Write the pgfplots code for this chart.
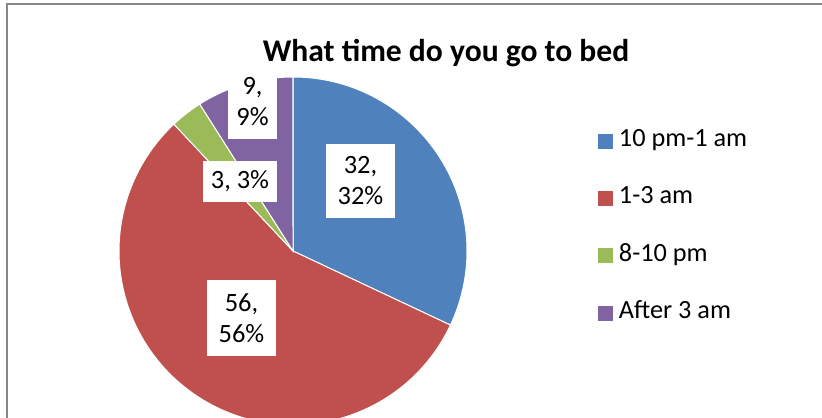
\documentclass[border=0pt]{standalone}
\usepackage{pgfplots}
\pgfplotsset{compat=1.18}
\usepackage{pgfplotstable}
\usepackage{fontspec}
\setmainfont{Carlito}
\definecolor{pieblue}{HTML}{4F81BD}
\definecolor{piered}{HTML}{C0504D}
\definecolor{piegreen}{HTML}{9BBB59}
\definecolor{piepurple}{HTML}{8064A2}
\definecolor{frame}{HTML}{878787}

\pgfplotstableread{
value
32
56
3
9
}\piedata

\begin{document}
\begin{tikzpicture}
\pgfplotstablegetelem{0}{value}\of\piedata \edef\vA{\pgfplotsretval}
\pgfplotstablegetelem{1}{value}\of\piedata \edef\vB{\pgfplotsretval}
\pgfplotstablegetelem{2}{value}\of\piedata \edef\vC{\pgfplotsretval}
\pgfplotstablegetelem{3}{value}\of\piedata \edef\vD{\pgfplotsretval}
\pgfmathsetmacro{\tot}{\vA+\vB+\vC+\vD}
\pgfmathsetmacro{\aA}{90-\vA/\tot*360}
\pgfmathsetmacro{\aB}{\aA-\vB/\tot*360}
\pgfmathsetmacro{\aC}{\aB-\vC/\tot*360}
\pgfmathsetmacro{\aD}{\aC-\vD/\tot*360}
\def\R{130.5pt}
\begin{axis}[
  scale only axis, width=616.5pt, height=313.5pt,
  xmin=0, xmax=822, ymin=0, ymax=418,
  axis lines=none, clip=true,
  legend style={draw=none, fill=none, at={(axis cs:594,289)}, anchor=north west,
    font=\fontsize{19.7}{22}\selectfont, row sep=29pt,
    nodes={inner sep=0pt, text height=11pt, text depth=3pt, anchor=west}},
  legend cell align=left,
  legend image code/.code={\fill[#1, draw=none] (0pt,-5.625pt) rectangle (11.25pt,5.625pt); \path[draw=none, fill=none] (0pt,0pt) rectangle (15.5pt,0.1pt);},
]
\addlegendimage{fill=pieblue, draw=none}
\addlegendentry{10 pm-1 am}
\addlegendimage{fill=piered, draw=none}
\addlegendentry{1-3 am}
\addlegendimage{fill=piegreen, draw=none}
\addlegendentry{8-10 pm}
\addlegendimage{fill=piepurple, draw=none}
\addlegendentry{After 3 am}

\filldraw[pieblue, draw=white, line width=0.75pt] (axis cs:293,167) -- ++(90:\R) arc[start angle=90, end angle=\aA, radius=\R] -- cycle;
\filldraw[piered, draw=white, line width=0.75pt] (axis cs:293,167) -- ++(\aA:\R) arc[start angle=\aA, end angle=\aB, radius=\R] -- cycle;
\filldraw[piegreen, draw=white, line width=0.75pt] (axis cs:293,167) -- ++(\aB:\R) arc[start angle=\aB, end angle=\aC, radius=\R] -- cycle;
\filldraw[piepurple, draw=white, line width=0.75pt] (axis cs:293,167) -- ++(\aC:\R) arc[start angle=\aC, end angle=\aD, radius=\R] -- cycle;

\draw[frame, line width=1.5pt] (axis cs:7,0) -- (axis cs:7,413.5) -- (axis cs:822,413.5);

\node[anchor=base, font=\bfseries\fontsize{23.7}{27}\selectfont] at (axis cs:446,356) {What time do you go to bed};

\tikzset{lbl/.style={fill=white, inner sep=0pt, align=center, font=\fontsize{19.8}{23.25}\selectfont}}
\node[lbl, minimum width=51.75pt, minimum height=55.5pt] at (axis cs:360.5,237) {32,\\32\%};
\node[lbl, minimum width=51.75pt, minimum height=57pt] at (axis cs:241.5,100) {56,\\56\%};
\node[lbl, minimum width=55.5pt, minimum height=30.75pt] at (axis cs:240,236.5) {3, 3\%};
\node[lbl, minimum width=36.75pt, minimum height=55.5pt] at (axis cs:252.5,316) {9,\\9\%};
\end{axis}
\pgfresetboundingbox
\useasboundingbox (0,0) rectangle (616.5pt,313.5pt);
\end{tikzpicture}
\end{document}
